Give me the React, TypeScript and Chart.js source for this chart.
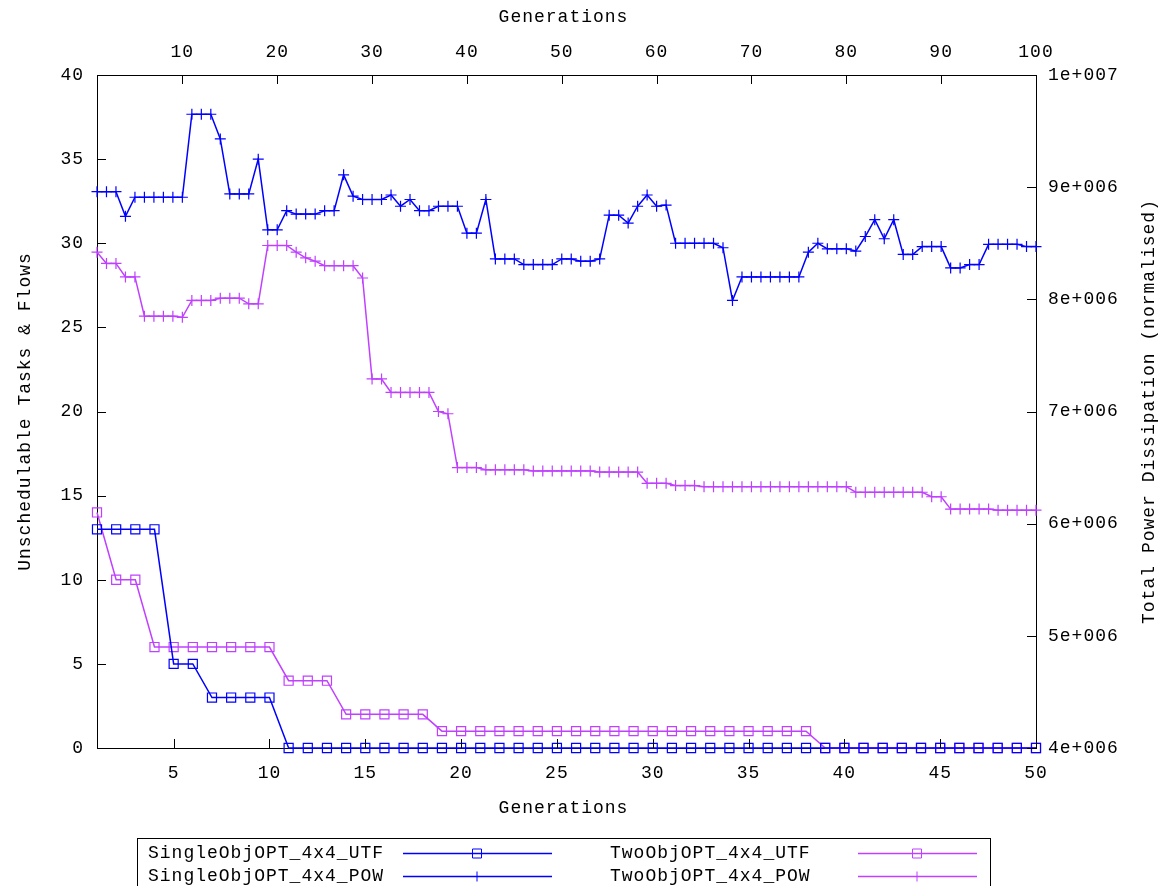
import React, { useEffect, useRef } from 'react';
import { Chart, registerables } from 'chart.js';

Chart.register(...registerables);

// ---------- data ----------
const utfGenerations = Array.from({ length: 50 }, (_, i) => i + 1);
const powGenerations = Array.from({ length: 100 }, (_, i) => i + 1);

const singleObjUTF = [
  13, 13, 13, 13, 5, 5, 3, 3, 3, 3,
  0, 0, 0, 0, 0, 0, 0, 0, 0, 0,
  0, 0, 0, 0, 0, 0, 0, 0, 0, 0,
  0, 0, 0, 0, 0, 0, 0, 0, 0, 0,
  0, 0, 0, 0, 0, 0, 0, 0, 0, 0,
];

const twoObjUTF = [
  14, 10, 10, 6, 6, 6, 6, 6, 6, 6,
  4, 4, 4, 2, 2, 2, 2, 2, 1, 1,
  1, 1, 1, 1, 1, 1, 1, 1, 1, 1,
  1, 1, 1, 1, 1, 1, 1, 1, 0, 0,
  0, 0, 0, 0, 0, 0, 0, 0, 0, 0,
];

// total power, in millions
const singleObjPOW = [
  8.96, 8.96, 8.96, 8.74, 8.91, 8.91, 8.91, 8.91, 8.91, 8.91,
  9.65, 9.65, 9.65, 9.43, 8.94, 8.94, 8.94, 9.25, 8.62, 8.62,
  8.79, 8.76, 8.76, 8.76, 8.79, 8.79, 9.11, 8.92, 8.89, 8.89,
  8.89, 8.93, 8.83, 8.89, 8.79, 8.79, 8.83, 8.83, 8.83, 8.59,
  8.59, 8.89, 8.36, 8.36, 8.36, 8.31, 8.31, 8.31, 8.31, 8.36,
  8.36, 8.34, 8.34, 8.36, 8.75, 8.75, 8.68, 8.83, 8.93, 8.83,
  8.84, 8.5, 8.5, 8.5, 8.5, 8.5, 8.46, 7.99, 8.2, 8.2,
  8.2, 8.2, 8.2, 8.2, 8.2, 8.42, 8.5, 8.45, 8.45, 8.45,
  8.43, 8.56, 8.71, 8.54, 8.71, 8.4, 8.4, 8.47, 8.47, 8.47,
  8.28, 8.28, 8.31, 8.31, 8.49, 8.49, 8.49, 8.49, 8.47, 8.47,
];

const twoObjPOW = [
  8.42, 8.32, 8.32, 8.2, 8.2, 7.85, 7.85, 7.85, 7.85, 7.84,
  7.99, 7.99, 7.99, 8.01, 8.01, 8.01, 7.96, 7.96, 8.48, 8.48,
  8.48, 8.42, 8.37, 8.34, 8.3, 8.3, 8.3, 8.3, 8.19, 7.29,
  7.29, 7.17, 7.17, 7.17, 7.17, 7.17, 7.0, 6.98, 6.5, 6.5,
  6.5, 6.48, 6.48, 6.48, 6.48, 6.48, 6.47, 6.47, 6.47, 6.47,
  6.47, 6.47, 6.47, 6.46, 6.46, 6.46, 6.46, 6.46, 6.36, 6.36,
  6.36, 6.34, 6.34, 6.34, 6.33, 6.33, 6.33, 6.33, 6.33, 6.33,
  6.33, 6.33, 6.33, 6.33, 6.33, 6.33, 6.33, 6.33, 6.33, 6.33,
  6.28, 6.28, 6.28, 6.28, 6.28, 6.28, 6.28, 6.28, 6.24, 6.24,
  6.13, 6.13, 6.13, 6.13, 6.13, 6.12, 6.12, 6.12, 6.12, 6.12,
];

const bottomTicks = [5, 10, 15, 20, 25, 30, 35, 40, 45, 50];
const topTicks = [10, 20, 30, 40, 50, 60, 70, 80, 90, 100];
const leftTicks = [0, 5, 10, 15, 20, 25, 30, 35, 40];
const rightTicks = [4, 5, 6, 7, 8, 9, 10];
const rightTickLabels = ['4e+006', '5e+006', '6e+006', '7e+006', '8e+006', '9e+006', '1e+007'];

const xTitle = 'Generations';
const yTitle = 'Unschedulable Tasks & Flows';
const y2Title = 'Total Power Dissipation (normalised)';

const seriesLabels = [
  'SingleObjOPT_4x4_UTF',
  'SingleObjOPT_4x4_POW',
  'TwoObjOPT_4x4_UTF',
  'TwoObjOPT_4x4_POW',
];

// ---------- style ----------
const FONT_FAMILY = "'Liberation Mono', 'DejaVu Sans Mono', monospace";
const FONT_SIZE = 18;
const LETTER_SPACING = '1px';
const BLUE = '#0000ff';
const MAGENTA = '#c040ff';

function drawMarker(ctx: CanvasRenderingContext2D, style: string, x: number, y: number, color: string) {
  ctx.save();
  ctx.strokeStyle = color;
  ctx.lineWidth = 1;
  ctx.beginPath();
  if (style === 'rect') {
    ctx.rect(x - 4.5, y - 4.5, 9, 9);
  } else {
    ctx.moveTo(x - 5, y);
    ctx.lineTo(x + 5, y);
    ctx.moveTo(x, y - 5);
    ctx.lineTo(x, y + 5);
  }
  ctx.stroke();
  ctx.restore();
}

const gnuplotPlugin = {
  id: 'gnuplotDecor',
  beforeDraw(chart: any) {
    (chart.ctx as any).letterSpacing = LETTER_SPACING;
  },
  afterDraw(chart: any) {
    const ctx: CanvasRenderingContext2D = chart.ctx;
    const { left, right, top, bottom } = chart.chartArea;
    const s = chart.scales;
    const TL = 9;
    ctx.save();
    (ctx as any).letterSpacing = LETTER_SPACING;
    ctx.strokeStyle = '#000';
    ctx.lineWidth = 1;
    ctx.beginPath();
    bottomTicks.forEach((v) => {
      const px = Math.round(s.x.getPixelForValue(v)) + 0.5;
      ctx.moveTo(px, bottom);
      ctx.lineTo(px, bottom - TL);
    });
    topTicks.forEach((v) => {
      const px = Math.round(s.x2.getPixelForValue(v)) + 0.5;
      ctx.moveTo(px, top);
      ctx.lineTo(px, top + TL);
    });
    leftTicks.forEach((v) => {
      const py = Math.round(s.y.getPixelForValue(v)) + 0.5;
      ctx.moveTo(left, py);
      ctx.lineTo(left + TL, py);
    });
    rightTicks.forEach((v) => {
      const py = Math.round(s.y2.getPixelForValue(v)) + 0.5;
      ctx.moveTo(right, py);
      ctx.lineTo(right - TL, py);
    });
    ctx.stroke();

    // axis titles
    ctx.fillStyle = '#000';
    ctx.font = `${FONT_SIZE}px ${FONT_FAMILY}`;
    ctx.textAlign = 'center';
    ctx.textBaseline = 'middle';
    const cx = (left + right) / 2;
    const cy = (top + bottom) / 2;
    ctx.fillText(xTitle, cx - 3, 17);
    ctx.fillText(xTitle, cx - 3, 808);
    ctx.save();
    ctx.translate(25, cy);
    ctx.rotate(-Math.PI / 2);
    ctx.fillText(yTitle, 0, 0);
    ctx.restore();
    ctx.save();
    ctx.translate(1149, cy);
    ctx.rotate(-Math.PI / 2);
    ctx.fillText(y2Title, 0, 0);
    ctx.restore();

    // legend box
    ctx.strokeStyle = '#000';
    ctx.lineWidth = 1;
    ctx.strokeRect(137.5, 838.5, 853, 80);
    const cols = [
      { textX: 148, l0: 403, l1: 552, mx: 477 },
      { textX: 610, l0: 858, l1: 977, mx: 917 },
    ];
    const rows = [853, 876];
    chart.data.datasets.forEach((ds: any, i: number) => {
      const col = cols[Math.floor(i / 2)];
      const ry = rows[i % 2];
      ctx.textAlign = 'left';
      ctx.fillStyle = '#000';
      ctx.fillText(ds.label, col.textX, ry);
      ctx.strokeStyle = ds.borderColor;
      ctx.lineWidth = 1.5;
      ctx.beginPath();
      ctx.moveTo(col.l0, ry + 0.5);
      ctx.lineTo(col.l1, ry + 0.5);
      ctx.stroke();
      drawMarker(ctx, ds.pointStyle, col.mx, ry + 0.5, ds.borderColor);
    });
    ctx.restore();
  },
};

function setTicks(values: number[]) {
  return (scale: any) => {
    scale.ticks = values.map((v) => ({ value: v }));
  };
}

export default function App() {
  const canvasRef = useRef<HTMLCanvasElement>(null);

  useEffect(() => {
    const canvas = canvasRef.current;
    if (!canvas) return;
    const tickFont = { family: FONT_FAMILY, size: FONT_SIZE };
    const common = {
      type: 'line' as const,
      borderWidth: 1.5,
      pointRadius: 0,
      tension: 0,
      clip: false as any,
      pointBackgroundColor: 'rgba(0,0,0,0)',
      pointBorderWidth: 1.2,
    };
    const chart = new Chart(canvas, {
      type: 'line',
      data: {
        datasets: [
          {
            ...common,
            label: seriesLabels[0],
            data: utfGenerations.map((g, i) => ({ x: g, y: singleObjUTF[i] })),
            borderColor: BLUE,
            pointBorderColor: BLUE,
            pointStyle: 'rect',
            pointRadius: 6.4,
            xAxisID: 'x',
            yAxisID: 'y',
          },
          {
            ...common,
            label: seriesLabels[1],
            data: powGenerations.map((g, i) => ({ x: g, y: singleObjPOW[i] })),
            borderColor: BLUE,
            pointBorderColor: BLUE,
            pointStyle: 'cross',
            pointRadius: 5.5,
            xAxisID: 'x2',
            yAxisID: 'y2',
          },
          {
            ...common,
            label: seriesLabels[2],
            data: utfGenerations.map((g, i) => ({ x: g, y: twoObjUTF[i] })),
            borderColor: MAGENTA,
            pointBorderColor: MAGENTA,
            pointStyle: 'rect',
            pointRadius: 6.4,
            xAxisID: 'x',
            yAxisID: 'y',
          },
          {
            ...common,
            label: seriesLabels[3],
            data: powGenerations.map((g, i) => ({ x: g, y: twoObjPOW[i] })),
            borderColor: MAGENTA,
            pointBorderColor: MAGENTA,
            pointStyle: 'cross',
            pointRadius: 5.5,
            xAxisID: 'x2',
            yAxisID: 'y2',
          },
        ],
      },
      options: {
        animation: false,
        responsive: true,
        maintainAspectRatio: false,
        devicePixelRatio: 1,
        layout: { padding: 0 },
        plugins: {
          legend: { display: false },
          tooltip: { enabled: false },
        },
        scales: {
          x: {
            type: 'linear',
            position: 'bottom',
            min: 1,
            max: 50,
            afterBuildTicks: setTicks(bottomTicks),
            afterFit: (sc: any) => { sc.height = 138; },
            grid: { display: false, drawTicks: false },
            border: { display: true, color: '#000', width: 1 },
            ticks: { font: tickFont, color: '#000', padding: 14, maxRotation: 0, autoSkip: false },
          },
          x2: {
            type: 'linear',
            position: 'top',
            min: 1,
            max: 100,
            afterBuildTicks: setTicks(topTicks),
            afterFit: (sc: any) => { sc.height = 75; },
            grid: { display: false, drawTicks: false },
            border: { display: true, color: '#000', width: 1 },
            ticks: { font: tickFont, color: '#000', padding: 12, maxRotation: 0, autoSkip: false },
          },
          y: {
            type: 'linear',
            position: 'left',
            min: 0,
            max: 40,
            afterBuildTicks: setTicks(leftTicks),
            afterFit: (sc: any) => { sc.width = 97; },
            grid: { display: false, drawTicks: false },
            border: { display: true, color: '#000', width: 1 },
            ticks: { font: tickFont, color: '#000', padding: 13, autoSkip: false },
          },
          y2: {
            type: 'linear',
            position: 'right',
            min: 4,
            max: 10,
            afterBuildTicks: setTicks(rightTicks),
            afterFit: (sc: any) => { sc.width = 131; },
            grid: { display: false, drawTicks: false },
            border: { display: true, color: '#000', width: 1 },
            ticks: {
              font: tickFont,
              color: '#000',
              padding: 12,
              autoSkip: false,
              callback: (v: any) => {
                const idx = rightTicks.indexOf(Number(v));
                return idx >= 0 ? rightTickLabels[idx] : '';
              },
            },
          },
        },
      } as any,
      plugins: [gnuplotPlugin],
    });
    return () => chart.destroy();
  }, []);

  return (
    <div style={{ position: 'fixed', left: 0, top: 0, width: 1167, height: 886, background: '#fff' }}>
      <canvas ref={canvasRef} />
    </div>
  );
}
